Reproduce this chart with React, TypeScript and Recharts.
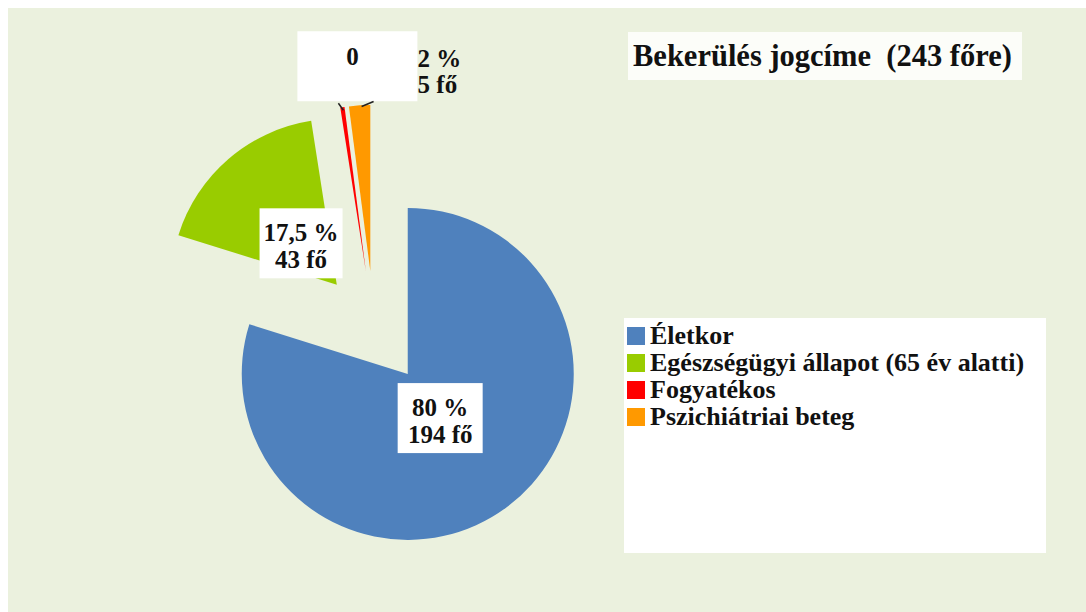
import React from 'react';
import { PieChart, Pie, Cell } from 'recharts';

// Bekerülés jogcíme – exploded pie
const categories = ['Életkor', 'Egészségügyi állapot (65 év alatti)', 'Fogyatékos', 'Pszichiátriai beteg'];
const counts = [194, 43, 1, 5];
const percentLabels = ['80 %', '17,5 %', '0', '2 %'];
const countLabels = ['194 fő', '43 fő', '', '5 fő'];
const COLORS = ['#4F81BD', '#99CC00', '#FF0000', '#FF9900'];

const data = categories.map((name, i) => ({ name, value: counts[i] }));

const W = 1086;
const H = 612;
const CENTER = { x: 374, y: 328 };
const RADIUS = 166;
const EXPLODE = 57;
const FONT = '"Liberation Serif", "Times New Roman", serif';
const RAD = Math.PI / 180;

const total = counts.reduce((a, b) => a + b, 0);
const midAngles = counts.map((v, i) => {
  const before = counts.slice(0, i).reduce((a, b) => a + b, 0);
  return 90 - (360 * (before + v / 2)) / total;
});

const renderLabel = (slice: number) => (props: any) => {
  const { cx, cy, midAngle, outerRadius, index } = props;
  if (index !== slice) return null;
  const cos = Math.cos(midAngle * RAD);
  const sin = -Math.sin(midAngle * RAD);
  const textStyle = { fontFamily: FONT, fontWeight: 700, fontSize: 25, fill: '#111' };

  if (index <= 1) {
    // inside label with white box
    const r = outerRadius * 0.33;
    const x = cx + r * cos;
    const y = cy + r * sin;
    const w = index === 0 ? 85 : 83;
    return (
      <g key={`lbl-${index}`}>
        <rect x={x - w / 2} y={y - 35} width={w} height={70} fill="#fff" />
        <text x={x} y={y - 11} textAnchor="middle" dominantBaseline="central" style={textStyle}>
          {percentLabels[index]}
        </text>
        <text x={x} y={y + 16} textAnchor="middle" dominantBaseline="central" style={textStyle}>
          {countLabels[index]}
        </text>
      </g>
    );
  }

  // outside labels at the top
  const ox = cx + outerRadius * cos;
  const oy = cy + outerRadius * sin;
  if (index === 2) {
    const lx = ox + 10;
    const ly = oy - 51;
    return (
      <g key={`lbl-${index}`}>
        <rect x={lx - 55} y={ly - 25} width={120} height={70} fill="#fff" />
        <line x1={ox - 4} y1={oy - 4} x2={ox + 1} y2={oy + 3} stroke="#222" strokeWidth={1.5} />
        <text x={lx} y={ly} textAnchor="middle" dominantBaseline="central" style={textStyle}>
          {percentLabels[index]}
        </text>
      </g>
    );
  }
  const lx = ox + 58;
  const ly = oy - 47;
  return (
    <g key={`lbl-${index}`}>
      <line x1={ox + 2} y1={oy + 1} x2={ox + 14} y2={oy - 4} stroke="#222" strokeWidth={1.5} />
      <text x={lx} y={ly} textAnchor="start" dominantBaseline="central" style={textStyle}>
        {percentLabels[index]}
      </text>
      <text x={lx} y={ly + 26} textAnchor="start" dominantBaseline="central" style={textStyle}>
        {countLabels[index]}
      </text>
    </g>
  );
};

export default function App() {
  return (
    <div style={{ position: 'relative', width: W, height: H, background: '#fff', overflow: 'hidden' }}>
      <style>{`body { margin: 0; }`}</style>
      <div
        style={{
          position: 'absolute',
          left: 8,
          top: 8,
          width: W - 8,
          height: H - 8,
          background: '#EBF1DE',
        }}
      />
      {/* title */}
      <div
        style={{
          position: 'absolute',
          left: 628,
          top: 32,
          width: 394,
          height: 48,
          background: '#fcfdf9',
          fontFamily: FONT,
          fontWeight: 700,
          fontSize: 30.5,
          lineHeight: '48px',
          color: '#111',
          whiteSpace: 'pre',
          paddingLeft: 5,
          boxSizing: 'border-box',
        }}
      >
        {'Bekerülés jogcíme  (243 főre)'}
      </div>

      <div style={{ position: 'absolute', left: 0, top: 0 }}>
        <PieChart width={W} height={H} margin={{ top: 0, right: 0, bottom: 0, left: 0 }}>
          {counts.map((_, slice) => (
            <Pie
              key={`pie-${slice}`}
              data={data}
              dataKey="value"
              nameKey="name"
              cx={CENTER.x + EXPLODE * Math.cos(midAngles[slice] * RAD)}
              cy={CENTER.y - EXPLODE * Math.sin(midAngles[slice] * RAD)}
              outerRadius={RADIUS}
              startAngle={90}
              endAngle={-270}
              stroke="none"
              isAnimationActive={false}
              labelLine={false}
              label={renderLabel(slice)}
            >
              {data.map((entry, i) => (
                <Cell key={`cell-${slice}-${entry.name}`} fill={i === slice ? COLORS[i] : 'transparent'} />
              ))}
            </Pie>
          ))}
        </PieChart>
      </div>

      {/* legend */}
      <div
        style={{
          position: 'absolute',
          left: 624,
          top: 318,
          width: 422,
          height: 235,
          background: '#fff',
          boxSizing: 'border-box',
          paddingTop: 4,
          paddingLeft: 3,
        }}
      >
        {categories.map((name, i) => (
          <div
            key={name}
            style={{
              display: 'flex',
              alignItems: 'center',
              height: 27,
              fontFamily: FONT,
              fontWeight: 700,
              fontSize: 26,
              color: '#111',
              whiteSpace: 'nowrap',
            }}
          >
            <span style={{ width: 18, height: 18, background: COLORS[i], marginRight: 5, flexShrink: 0 }} />
            <span>{name}</span>
          </div>
        ))}
      </div>
    </div>
  );
}
